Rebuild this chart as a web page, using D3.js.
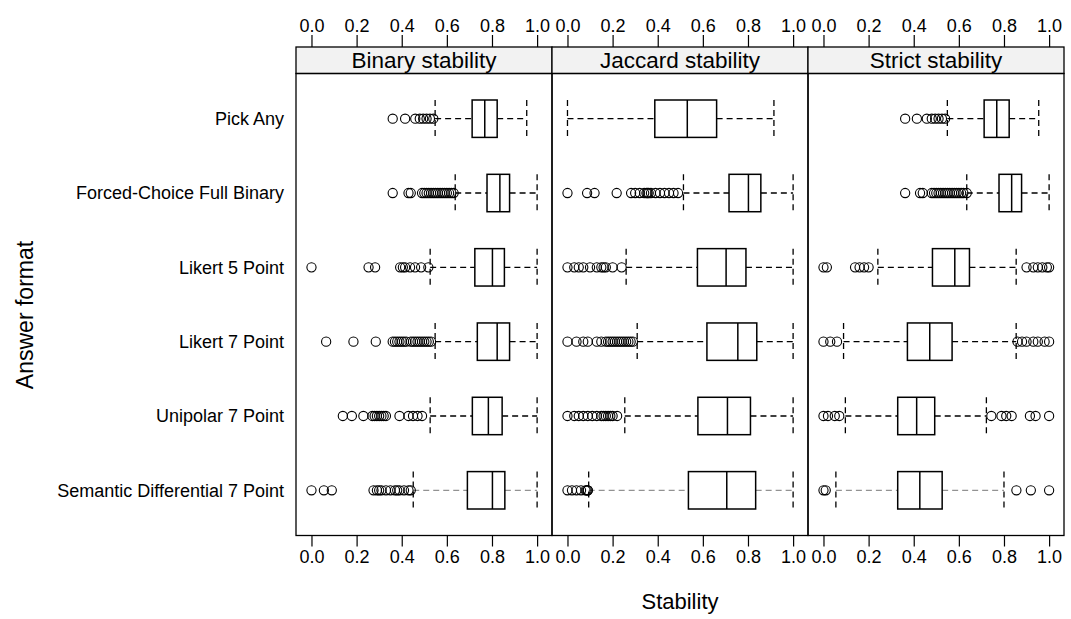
<!DOCTYPE html>
<html>
<head>
<meta charset="utf-8">
<script src="https://cdn.jsdelivr.net/npm/d3@7"></script>
<style>
  body { margin: 0; background: #fff; }
  text { font-family: "Liberation Sans", Arial, Helvetica, sans-serif; fill: #000; }
</style>
</head>
<body>
<svg id="chart" width="1071" height="619"></svg>
<script>
var formats = ['Pick Any', 'Forced-Choice Full Binary', 'Likert 5 Point',
               'Likert 7 Point', 'Unipolar 7 Point', 'Semantic Differential 7 Point'];
var panels  = ['Binary stability', 'Jaccard stability', 'Strict stability'];
var ticks   = [0, 0.2, 0.4, 0.6, 0.8, 1.0];

// [lower whisker, q1, median, q3, upper whisker] per answer format
var binaryStats = [
    [0.548, 0.712, 0.768, 0.823, 0.954],
    [0.637, 0.778, 0.835, 0.878, 1.0],
    [0.526, 0.724, 0.802, 0.855, 1.0],
    [0.548, 0.735, 0.823, 0.878, 1.0],
    [0.526, 0.713, 0.784, 0.845, 1.0],
    [0.451, 0.691, 0.802, 0.857, 1.0]
];
var binaryOut = [
    [0.36, 0.415, 0.46, 0.48, 0.495, 0.51, 0.525, 0.54],
    [0.36, 0.43, 0.44, 0.49, 0.50, 0.51, 0.52, 0.53, 0.54, 0.55, 0.56, 0.57, 0.58, 0.59, 0.60, 0.61, 0.62, 0.63],
    [0.0, 0.253, 0.282, 0.393, 0.405, 0.415, 0.437, 0.459, 0.486, 0.518],
    [0.065, 0.186, 0.285, 0.36, 0.37, 0.38, 0.39, 0.40, 0.41, 0.42, 0.44, 0.45, 0.46, 0.47, 0.48, 0.49, 0.50, 0.51, 0.52, 0.53],
    [0.139, 0.179, 0.23, 0.27, 0.28, 0.29, 0.30, 0.31, 0.32, 0.33, 0.39, 0.43, 0.45, 0.47, 0.49],
    [0.0, 0.055, 0.09, 0.275, 0.29, 0.30, 0.31, 0.33, 0.35, 0.37, 0.38, 0.39, 0.41, 0.43, 0.44]
];

var jaccardStats = [
    [0.0, 0.387, 0.531, 0.661, 0.915],
    [0.514, 0.716, 0.802, 0.857, 1.0],
    [0.26, 0.576, 0.703, 0.791, 1.0],
    [0.309, 0.618, 0.755, 0.839, 1.0],
    [0.254, 0.578, 0.709, 0.811, 1.0],
    [0.094, 0.536, 0.706, 0.834, 1.0]
];
var jaccardOut = [
    [],
    [0.0, 0.087, 0.12, 0.218, 0.282, 0.30, 0.32, 0.34, 0.35, 0.355, 0.36, 0.37, 0.39, 0.41, 0.43, 0.45, 0.47, 0.49],
    [0.0, 0.03, 0.05, 0.07, 0.10, 0.13, 0.15, 0.16, 0.17, 0.20, 0.24],
    [0.0, 0.04, 0.07, 0.09, 0.13, 0.15, 0.17, 0.18, 0.19, 0.20, 0.21, 0.22, 0.23, 0.24, 0.25, 0.26, 0.27, 0.28, 0.29],
    [0.0, 0.03, 0.05, 0.07, 0.09, 0.11, 0.13, 0.15, 0.16, 0.17, 0.18, 0.19, 0.20, 0.22],
    [0.0, 0.02, 0.04, 0.06, 0.08, 0.085, 0.09, 0.09]
];

var strictStats = [
    [0.549, 0.712, 0.768, 0.823, 0.954],
    [0.635, 0.778, 0.834, 0.878, 1.0],
    [0.241, 0.483, 0.582, 0.647, 0.854],
    [0.089, 0.372, 0.471, 0.57, 0.854],
    [0.097, 0.329, 0.413, 0.493, 0.722],
    [0.055, 0.329, 0.427, 0.526, 0.80]
];
var strictOut = [
    [0.362, 0.414, 0.458, 0.48, 0.495, 0.51, 0.525, 0.539],
    [0.362, 0.428, 0.44, 0.48, 0.49, 0.50, 0.51, 0.52, 0.53, 0.54, 0.55, 0.56, 0.57, 0.58, 0.59, 0.60, 0.61, 0.62, 0.635],
    [0.0, 0.015, 0.14, 0.16, 0.18, 0.20, 0.90, 0.93, 0.95, 0.97, 0.99, 1.0],
    [0.0, 0.03, 0.06, 0.86, 0.88, 0.90, 0.93, 0.95, 0.98, 1.0],
    [0.0, 0.02, 0.05, 0.07, 0.744, 0.789, 0.81, 0.834, 0.915, 0.94, 1.0],
    [0.0, 0.01, 0.855, 0.919, 1.0]
];

var allStats = [binaryStats, jaccardStats, strictStats],
    allOut   = [binaryOut, jaccardOut, strictOut];

var svg      = d3.select('#chart'),
    left     = 296,
    panelW   = 256,
    stripTop = 47,
    stripBot = 73.5,
    bottom   = 535.5,
    halfBox  = 18.7;

var y = d3.scalePoint().domain(formats).range([118.7, 490.3]);

// row labels
svg.append('g').selectAll('text')
    .data(formats)
    .enter().append('text')
    .attr('x', 284)
    .attr('y', function(d) { return y(d); })
    .attr('dy', '0.35em')
    .attr('text-anchor', 'end')
    .style('font-size', '18px')
    .text(function(d) { return d; });

panels.forEach(function(name, p) {
    var x0 = left + p * panelW,
        x = d3.scaleLinear().domain([-0.0686, 1.066]).range([x0, x0 + panelW]),
        g = svg.append('g'),
        stats = allStats[p],
        outs = allOut[p];

    // strip
    g.append('rect')
        .attr('x', x0).attr('y', stripTop)
        .attr('width', panelW).attr('height', stripBot - stripTop)
        .attr('fill', '#f2f2f2').attr('stroke', '#000').attr('stroke-width', 1.3);
    g.append('text')
        .attr('x', x0 + panelW / 2).attr('y', stripTop + 21)
        .attr('text-anchor', 'middle')
        .style('font-size', '22.5px')
        .text(name);

    // panel frame
    g.append('rect')
        .attr('x', x0).attr('y', stripBot)
        .attr('width', panelW).attr('height', bottom - stripBot)
        .attr('fill', 'none').attr('stroke', '#000').attr('stroke-width', 1.3);

    // axes top and bottom
    var top = d3.axisTop(x).tickValues(ticks).tickSize(12).tickFormat(d3.format('.1f'));
    var bot = d3.axisBottom(x).tickValues(ticks).tickSize(11).tickFormat(d3.format('.1f'));
    var ga = g.append('g').attr('transform', 'translate(0,' + stripTop + ')').call(top);
    var gb = g.append('g').attr('transform', 'translate(0,' + bottom + ')').call(bot);
    [ga, gb].forEach(function(a) {
        a.select('.domain').remove();
        a.selectAll('line').attr('stroke', '#000').attr('stroke-width', 1.2);
        a.selectAll('text').style('font-size', '18px').style('font-family', '"Liberation Sans", Arial, sans-serif');
    });
    ga.selectAll('text').attr('y', -15);
    gb.selectAll('text').attr('y', 15);

    stats.forEach(function(s, i) {
        var cy = y(formats[i]),
            last = i === formats.length - 1,
            row = g.append('g');

        // whiskers
        [[s[0], s[1]], [s[3], s[4]]].forEach(function(w) {
            row.append('line')
                .attr('x1', x(w[0])).attr('x2', x(w[1]))
                .attr('y1', cy).attr('y2', cy)
                .attr('stroke', last ? '#777' : '#000')
                .attr('stroke-width', last ? 1 : 1.3)
                .attr('stroke-dasharray', '6,4');
        });
        // caps
        [s[0], s[4]].forEach(function(v) {
            row.append('line')
                .attr('x1', x(v)).attr('x2', x(v))
                .attr('y1', cy - halfBox).attr('y2', cy + halfBox)
                .attr('stroke', '#000').attr('stroke-width', 1.3)
                .attr('stroke-dasharray', '6,4');
        });
        // box
        row.append('rect')
            .attr('x', x(s[1])).attr('y', cy - halfBox)
            .attr('width', x(s[3]) - x(s[1])).attr('height', halfBox * 2)
            .attr('fill', '#fff').attr('stroke', '#000').attr('stroke-width', 1.5);
        row.append('line')
            .attr('x1', x(s[2])).attr('x2', x(s[2]))
            .attr('y1', cy - halfBox).attr('y2', cy + halfBox)
            .attr('stroke', '#000').attr('stroke-width', 1.5);
        // outliers
        row.selectAll('circle')
            .data(outs[i])
            .enter().append('circle')
            .attr('cx', function(d) { return x(d); })
            .attr('cy', cy)
            .attr('r', 4.6)
            .attr('fill', 'none').attr('stroke', '#000').attr('stroke-width', 1.1);
    });
});

svg.append('text')
    .attr('x', left + panelW * 1.5).attr('y', 609)
    .attr('text-anchor', 'middle')
    .style('font-size', '22px')
    .text('Stability');

svg.append('text')
    .attr('transform', 'translate(33,315) rotate(-90)')
    .attr('text-anchor', 'middle')
    .style('font-size', '23px')
    .text('Answer format');
</script>
</body>
</html>
